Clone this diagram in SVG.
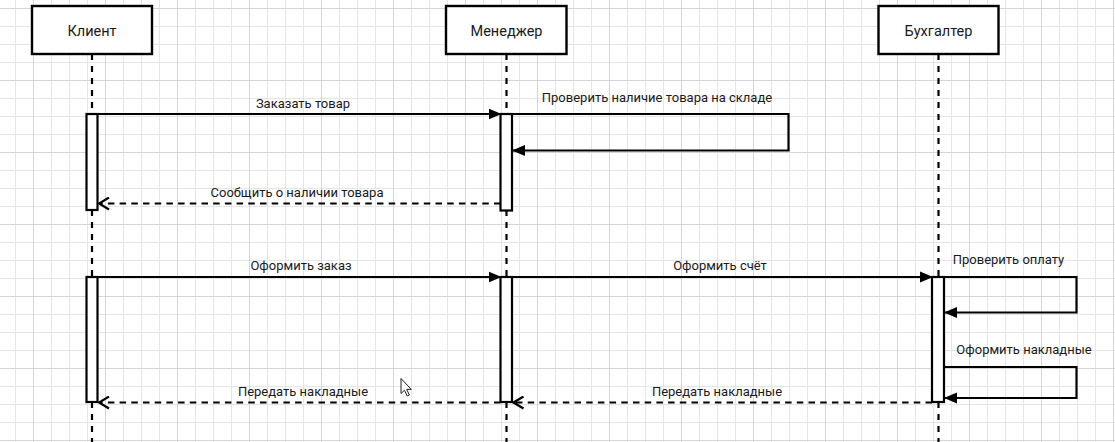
<svg xmlns="http://www.w3.org/2000/svg" width="1115" height="442" viewBox="0 0 1115 442">
<style>
.grid{stroke:#e5e5e5;stroke-width:1;fill:none}
.gridm{stroke:#d5d5d5;stroke-width:1;fill:none}
.box{fill:#fff;stroke:#000;stroke-width:2.4}
.act{fill:#fff;stroke:#000;stroke-width:2.2}
.life{stroke:#000;stroke-width:2.2;stroke-dasharray:6 6;fill:none}
.msg{stroke:#000;stroke-width:2.2;fill:none}
.ret{stroke:#000;stroke-width:2.2;fill:none;stroke-dasharray:6.5 5.2}
.hdr{font-family:Roboto,"Liberation Sans",sans-serif;font-size:14.5px;fill:#1a1a1a;text-anchor:middle}
.lbl{font-family:Roboto,"Liberation Sans",sans-serif;font-size:13px;fill:#1a1a1a;text-anchor:middle}
</style>
<defs>
<marker id="fill" markerWidth="13" markerHeight="12" refX="12" refY="5.5" orient="auto" markerUnits="userSpaceOnUse" viewBox="0 0 13 11">
<path d="M0,0 L13,5.5 L0,11 Z" fill="#000"/>
</marker>
<marker id="open" markerWidth="14" markerHeight="14" refX="12" refY="7" orient="auto" markerUnits="userSpaceOnUse" viewBox="0 0 14 14">
<path d="M2,1 L12,7 L2,13" fill="none" stroke="#000" stroke-width="2.2"/>
</marker>
</defs>
<rect width="1115" height="442" fill="#fff"/>
<g id="grid">
<path class="grid" d="M15.5 0V442M51.5 0V442M69.5 0V442M87.5 0V442M123.5 0V442M141.5 0V442M159.5 0V442M195.5 0V442M213.5 0V442M231.5 0V442M267.5 0V442M285.5 0V442M303.5 0V442M339.5 0V442M357.5 0V442M375.5 0V442M411.5 0V442M429.5 0V442M447.5 0V442M483.5 0V442M501.5 0V442M519.5 0V442M555.5 0V442M573.5 0V442M591.5 0V442M627.5 0V442M645.5 0V442M663.5 0V442M699.5 0V442M717.5 0V442M735.5 0V442M771.5 0V442M789.5 0V442M807.5 0V442M843.5 0V442M861.5 0V442M879.5 0V442M915.5 0V442M933.5 0V442M951.5 0V442M987.5 0V442M1005.5 0V442M1023.5 0V442M1059.5 0V442M1077.5 0V442M1095.5 0V442M0 26.5H1115M0 44.5H1115M0 62.5H1115M0 98.5H1115M0 116.5H1115M0 134.5H1115M0 170.5H1115M0 188.5H1115M0 206.5H1115M0 242.5H1115M0 260.5H1115M0 278.5H1115M0 314.5H1115M0 332.5H1115M0 350.5H1115M0 386.5H1115M0 404.5H1115M0 422.5H1115"/>
<path class="gridm" d="M33.5 0V442M105.5 0V442M177.5 0V442M249.5 0V442M321.5 0V442M393.5 0V442M465.5 0V442M537.5 0V442M609.5 0V442M681.5 0V442M753.5 0V442M825.5 0V442M897.5 0V442M969.5 0V442M1041.5 0V442M1113.5 0V442M0 8.5H1115M0 80.5H1115M0 152.5H1115M0 224.5H1115M0 296.5H1115M0 368.5H1115M0 440.5H1115"/>
</g>
<g id="client">
<line class="life" x1="92" y1="54" x2="92" y2="442"/>
<rect class="box" x="32" y="6" width="120" height="48"/>
<text class="hdr" x="92" y="35.5">Клиент</text>
<rect class="act" x="86.5" y="114" width="11" height="96"/>
<rect class="act" x="86.5" y="277" width="11" height="125"/>
</g>
<g id="manager">
<line class="life" x1="506.5" y1="54" x2="506.5" y2="442"/>
<rect class="box" x="446" y="6" width="120.5" height="48"/>
<text class="hdr" x="506.5" y="35.5">Менеджер</text>
<rect class="act" x="500.5" y="114" width="11.5" height="96.5"/>
<rect class="act" x="500.5" y="277" width="11.5" height="125"/>
</g>
<g id="accountant">
<line class="life" x1="938.5" y1="54" x2="938.5" y2="442"/>
<rect class="box" x="878.5" y="6" width="120" height="48"/>
<text class="hdr" x="938.5" y="35.5">Бухгалтер</text>
<rect class="act" x="932" y="277" width="12" height="125"/>
</g>
<g id="connectors">
<line class="msg" x1="97.5" y1="114" x2="500.5" y2="114" marker-end="url(#fill)"/>
<text class="lbl" x="303" y="107.5">Заказать товар</text>
<path class="msg" d="M512 114H788.5V150.5H513" marker-end="url(#fill)"/>
<text class="lbl" x="657" y="102">Проверить наличие товара на складе</text>
<line class="ret" x1="500.5" y1="203.5" x2="99" y2="203.5" marker-end="url(#open)"/>
<text class="lbl" x="297" y="197">Сообщить о наличии товара</text>
<line class="msg" x1="97.5" y1="277" x2="500.5" y2="277" marker-end="url(#fill)"/>
<text class="lbl" x="301" y="270">Оформить заказ</text>
<line class="msg" x1="512" y1="277" x2="932" y2="277" marker-end="url(#fill)"/>
<text class="lbl" x="720" y="270">Оформить счёт</text>
<path class="msg" d="M944 277H1076.5V312.5H945" marker-end="url(#fill)"/>
<text class="lbl" x="1008.5" y="263.5">Проверить оплату</text>
<path class="msg" d="M944 367H1076.5V398H945" marker-end="url(#fill)"/>
<text class="lbl" x="1024" y="353.5">Оформить накладные</text>
<line class="ret" x1="932" y1="402.5" x2="513.5" y2="402.5" marker-end="url(#open)"/>
<text class="lbl" x="717" y="396">Передать накладные</text>
<line class="ret" x1="500.5" y1="402.5" x2="99" y2="402.5" marker-end="url(#open)"/>
<text class="lbl" x="303" y="396">Передать накладные</text>
</g>
<path d="M401 378.5V393.5L404.5 390.3L407.2 396L409.3 395L406.7 389.4H411.3Z" fill="#fff" stroke="#222" stroke-width="1"/>
</svg>
